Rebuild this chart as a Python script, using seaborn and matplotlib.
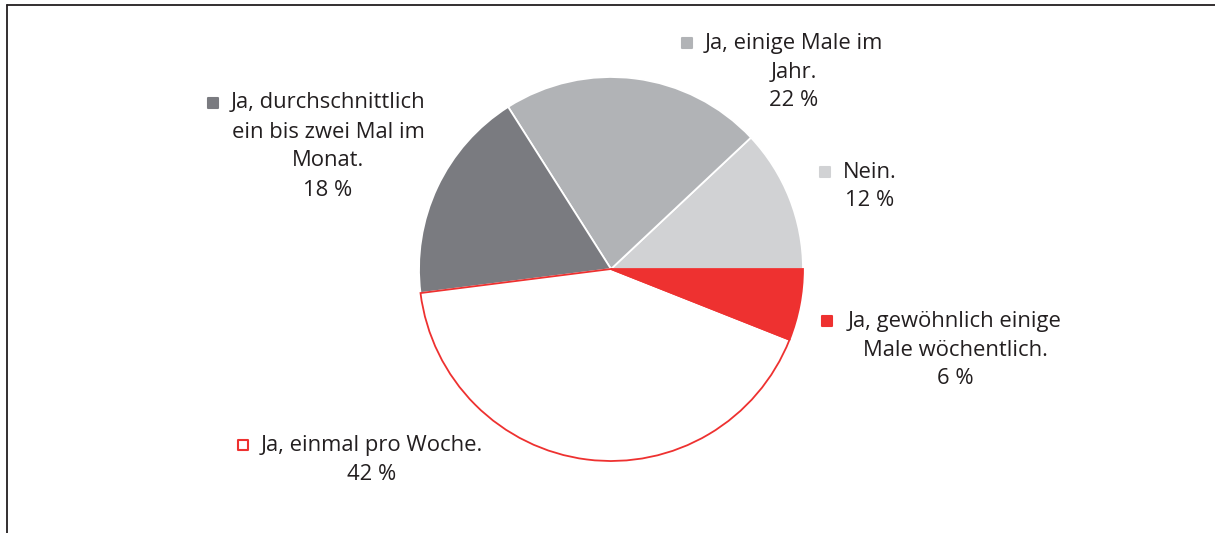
import numpy as np
import pandas as pd
import matplotlib.pyplot as plt
import seaborn as sns

# Survey answers and shares (percent)
answers = [
    "Nein.",
    "Ja, einige Male im\nJahr.",
    "Ja, durchschnittlich\nein bis zwei Mal im\nMonat.",
    "Ja, einmal pro Woche.",
    "Ja, gewöhnlich einige\nMale wöchentlich.",
]
shares = [12, 22, 18, 42, 6]
fill_colors = ["#d1d2d4", "#b1b3b6", "#7a7b80", "#ffffff", "#ee3130"]
edge_colors = ["#ffffff", "#ffffff", "#ffffff", "#ee3130", "#ee3130"]

df = pd.DataFrame({"answer": answers, "share": shares})

sns.set_style("white")
plt.rcParams["font.family"] = ["Open Sans", "DejaVu Sans"]

W, H = 1215, 533
fig = plt.figure(figsize=(W / 100, H / 100), dpi=100)
ax = fig.add_axes([0, 0, 1, 1])

cx, cy, r = 611, H - 269, 192
wedges, _ = ax.pie(df["share"], startangle=0, counterclock=True, radius=r,
                   center=(cx, cy), colors=fill_colors, frame=True,
                   wedgeprops=dict(linewidth=1.3))
for w, ec in zip(wedges, edge_colors):
    w.set_edgecolor(ec)
ax.set_xlim(0, W)
ax.set_ylim(0, H)
ax.set_aspect("equal")
ax.axis("off")

# label layout: (text center x, first line y, marker x)
label_pos = [
    (870, 172, 825),
    (794, 43, 687),
    (328, 103, 213),
    (372, 445, 243),
    (955, 321, 827),
]
line_h = 29
for (tx, ty, mx), ans, share, fc, ec in zip(label_pos, df["answer"], df["share"], fill_colors, edge_colors):
    lines = ans.split("\n") + [f"{share} %"]
    for i, line in enumerate(lines):
        ax.text(tx, H - ty - i * line_h, line, ha="center", va="center",
                fontsize=15.8, color="#231f20")
    ax.scatter([mx], [H - ty], marker="s", s=55, color=fc,
               edgecolor=ec if fc == "#ffffff" else fc, linewidth=1.5, zorder=5)

# frame lines (top and left)
ax.plot([7, W], [H - 5, H - 5], color="#231f20", lw=1.3, clip_on=False)
ax.plot([7, 7], [H - 5, 0], color="#231f20", lw=1.3, clip_on=False)

fig.savefig("out.png", dpi=100)
